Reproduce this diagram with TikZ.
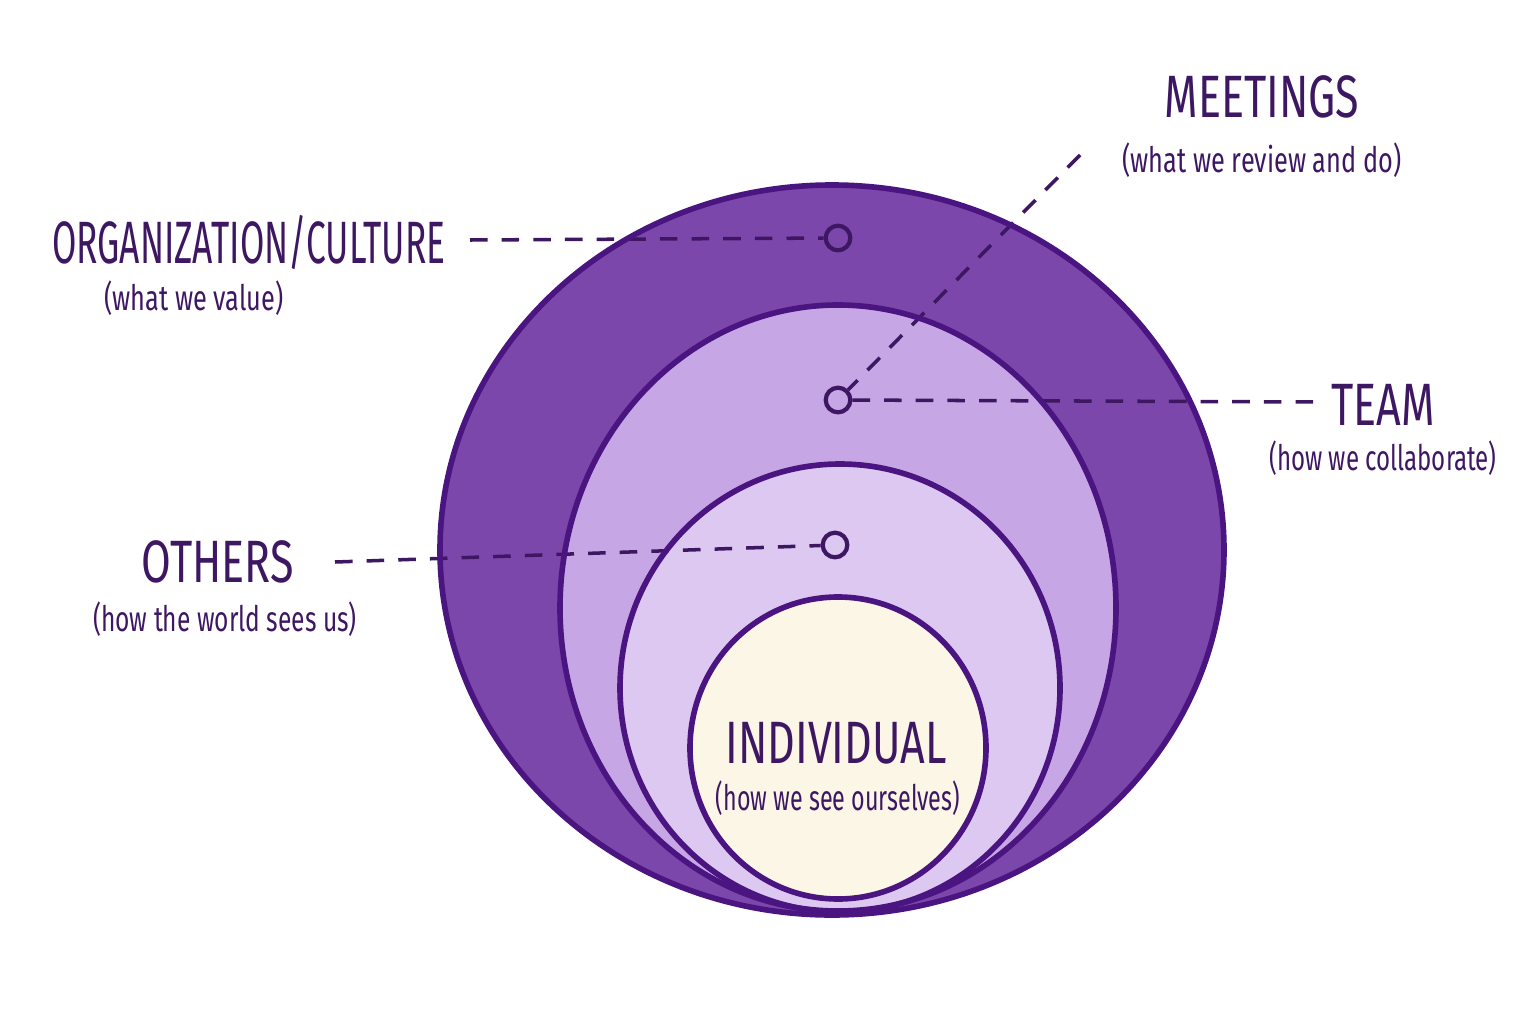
\documentclass[tikz,border=0pt]{standalone}
\usepackage{fontspec}
\setmainfont{Fira Sans}[FakeStretch=0.72]
\usetikzlibrary{positioning}
\definecolor{ink}{HTML}{3E1763}
\definecolor{rim}{HTML}{4A1580}
\definecolor{orgfill}{HTML}{7C47AA}
\definecolor{teamfill}{HTML}{C7A6E6}
\definecolor{othfill}{HTML}{DDC8F1}
\definecolor{selffill}{HTML}{FBF6E6}
\tikzset{
  ring/.style={draw=rim,line width=1.6pt},
  lead/.style={draw=ink,dashed,line width=1pt,dash pattern=on 5pt off 4pt},
  dot/.style={circle,draw=ink,line width=1.2pt,fill=none,inner sep=0pt,minimum size=7pt},
  title/.style={text=ink,font=\fontsize{17}{19}\selectfont},
  sub/.style={text=ink,font=\fontsize{10}{12}\selectfont}
}
\begin{document}
\begin{tikzpicture}[x=0.01cm,y=-0.01cm]
\useasboundingbox (0,0) rectangle (1536,1024);
% rings
\fill[orgfill] (832,550) ellipse (392 and 365);
\fill[teamfill] (838,608) ellipse (278 and 303);
\fill[othfill] (840,688) ellipse (220 and 224);
\fill[selffill] (838,748) ellipse (148 and 151);
% leader lines sit under the rims
\node[dot] (dorg) at (838,238) {};
\node[dot] (dteam) at (838,400) {};
\node[dot] (doth) at (835,545) {};
\coordinate (corg) at (470,240);
\coordinate (cmeet) at (1080,155);
\coordinate (cteam) at (1320,402);
\coordinate (coth) at (335,562);
\draw[lead] (corg) -- (dorg);
\draw[lead] (cmeet) -- (dteam);
\draw[lead] (dteam) -- (cteam);
\draw[lead] (coth) -- (doth);
\draw[ring] (832,550) ellipse (392 and 365);
\draw[ring] (838,608) ellipse (278 and 303);
\draw[ring] (840,688) ellipse (220 and 224);
\draw[ring] (838,748) ellipse (148 and 151);
% labels
\node[title,anchor=east] (torg) at (458,242) {\scalebox{0.82}[1]{ORGANIZATION/CULTURE}};
\node[sub] (sorg) at (194,298) {(what we value)};
\node[title] (tmeet) at (1262,97) {MEETINGS};
\node[sub] (smeet) at (1262,160) {(what we review and do)};
\node[title] (tteam) at (1383,405) {TEAM};
\node[sub] (steam) at (1383,458) {\scalebox{0.95}[1]{(how we collaborate)}};
\node[title] (toth) at (218,562) {OTHERS};
\node[sub] (soth) at (225,619) {\scalebox{0.97}[1]{(how the world sees us)}};
\node[title] (tself) at (836,743) {INDIVIDUAL};
\node[sub] (sself) at (838,798) {\scalebox{0.92}[1]{(how we see ourselves)}};
\end{tikzpicture}
\end{document}
